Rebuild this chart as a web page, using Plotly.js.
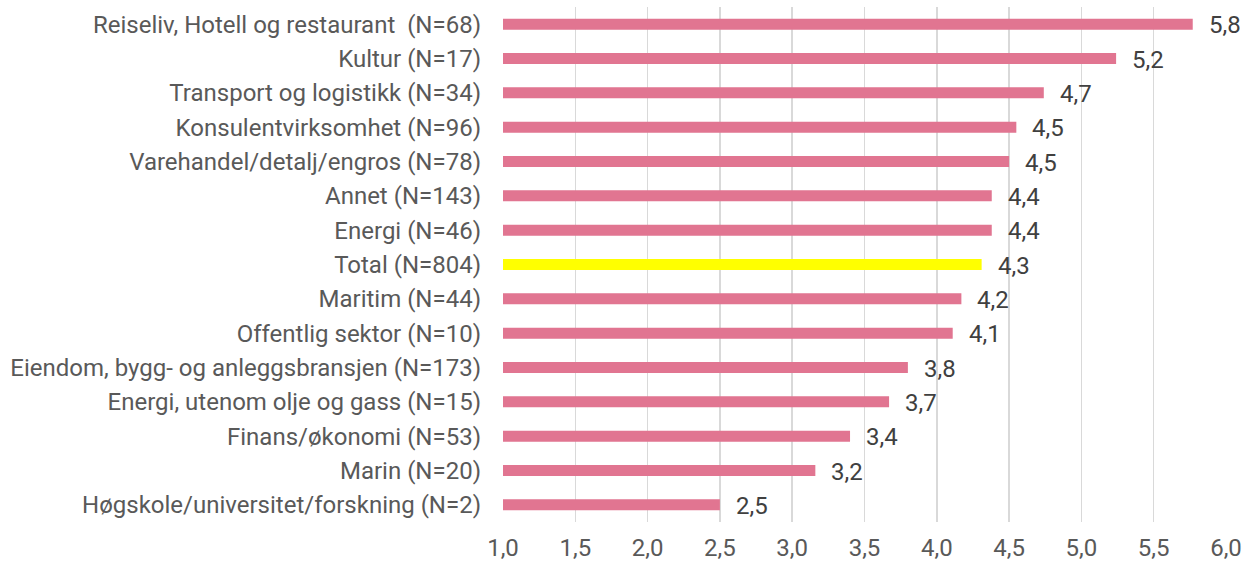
<!DOCTYPE html>
<html>
<head>
<meta charset="utf-8">
<script src="https://cdn.plot.ly/plotly-3.0.1.min.js"></script>
<style>html,body{margin:0;padding:0;background:#fff;}#chart{width:1247px;height:564px;}</style>
</head>
<body>
<div id="chart"></div>
<script>
const categories = [
  "Reiseliv, Hotell og restaurant  (N=68)",
  "Kultur (N=17)",
  "Transport og logistikk (N=34)",
  "Konsulentvirksomhet (N=96)",
  "Varehandel/detalj/engros (N=78)",
  "Annet (N=143)",
  "Energi (N=46)",
  "Total (N=804)",
  "Maritim (N=44)",
  "Offentlig sektor (N=10)",
  "Eiendom, bygg- og anleggsbransjen (N=173)",
  "Energi, utenom olje og gass (N=15)",
  "Finans/økonomi (N=53)",
  "Marin (N=20)",
  "Høgskole/universitet/forskning (N=2)"
];
const values = [5.77, 5.24, 4.74, 4.55, 4.50, 4.38, 4.38, 4.31, 4.17, 4.11, 3.80, 3.67, 3.40, 3.16, 2.50];
const valueLabels = ["5,8","5,2","4,7","4,5","4,5","4,4","4,4","4,3","4,2","4,1","3,8","3,7","3,4","3,2","2,5"];
const tickVals = [1.0,1.5,2.0,2.5,3.0,3.5,4.0,4.5,5.0,5.5,6.0];
const tickLabels = ["1,0","1,5","2,0","2,5","3,0","3,5","4,0","4,5","5,0","5,5","6,0"];

const pink = "#E17591", yellow = "#FFFF00";
const colors = categories.map(c => c.startsWith("Total") ? yellow : pink);

const trace = {
  type: "bar", orientation: "h",
  y: categories, x: values,
  marker: {color: colors},
  width: 0.32,
  hoverinfo: "none"
};

const annotations = values.map((v, i) => ({
  x: v, y: categories[i], xref: "x", yref: "y",
  text: valueLabels[i], showarrow: false,
  xanchor: "left", yanchor: "middle", xshift: 14, yshift: -1,
  font: {family: "Roboto", size: 24, color: "#404040"}
}));

const layout = {
  width: 1247, height: 564,
  margin: {l: 503, r: 21, t: 7, b: 42},
  paper_bgcolor: "#fff", plot_bgcolor: "#fff",
  showlegend: false,
  font: {family: "Roboto", size: 24, color: "#595959"},
  xaxis: {
    range: [1, 6], tickvals: tickVals, ticktext: tickLabels,
    showgrid: true, gridcolor: "#d9d9d9", gridwidth: 1.5,
    zeroline: false, showline: false, ticks: "", fixedrange: true,
    ticklabelstandoff: 9,
    tickfont: {family: "Roboto", size: 24, color: "#595959"}
  },
  yaxis: {
    type: "category", autorange: "reversed",
    showgrid: false, zeroline: false, showline: false, ticks: "",
    ticklabelstandoff: 21,
    tickfont: {family: "Roboto", size: 24, color: "#595959"}
  },
  annotations: annotations
};

Plotly.newPlot("chart", [trace], layout, {displayModeBar: false, staticPlot: true});
</script>
</body>
</html>
